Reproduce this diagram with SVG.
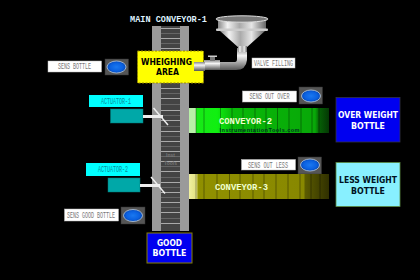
<svg xmlns="http://www.w3.org/2000/svg" width="420" height="280" viewBox="0 0 420 280">
  <style>
    .tag { fill: #fff; stroke: #bbb; stroke-width: .5; }
    .tagtext { font: 9px "Liberation Mono", monospace; fill: #777; text-anchor: middle; }
    .acttext { font: 9px "Liberation Mono", monospace; fill: #0a8a9a; text-anchor: middle; }
    .bold { font: bold 8px "DejaVu Sans", Verdana, sans-serif; text-anchor: middle; }
    .belt { font: bold 9.5px "Liberation Mono", monospace; fill: #f0ffd0; }
    .slat { stroke: #aaa; stroke-width: 1; }
    .sep { stroke: #000; stroke-opacity: .45; stroke-width: .8; }
    .case { fill: #555; stroke: #333; stroke-width: .5; }
    .lens { fill: url(#lens); stroke: #cde; stroke-width: .7; }
    .teal { fill: #00a8a8; stroke: #007a7a; stroke-width: .5; }
    .arm { stroke: #eee; fill: none; }
    .mark { font: bold 5px "Liberation Sans", sans-serif; fill: #777; text-anchor: middle; }
  </style>
  <defs>
    <linearGradient id="steel" x1="0" x2="1" y1="0" y2="0">
      <stop offset="0" stop-color="#888"/><stop offset=".2" stop-color="#f2f2f2"/>
      <stop offset=".45" stop-color="#aaa"/><stop offset=".7" stop-color="#e6e6e6"/>
      <stop offset="1" stop-color="#666"/>
    </linearGradient>
    <linearGradient id="pipe" x1="0" x2="0" y1="0" y2="1">
      <stop offset="0" stop-color="#888"/><stop offset=".35" stop-color="#f4f4f4"/>
      <stop offset="1" stop-color="#555"/>
    </linearGradient>
    <radialGradient id="lens">
      <stop offset="0" stop-color="#1a78f0"/><stop offset=".7" stop-color="#0a60e0"/><stop offset="1" stop-color="#0848b0"/>
    </radialGradient>
    <linearGradient id="green" x1="0" x2="1" y1="0" y2="0">
      <stop offset="0" stop-color="#b8f0a8"/><stop offset=".05" stop-color="#b8f0a8"/>
      <stop offset=".051" stop-color="#18e818"/><stop offset=".2" stop-color="#10f010"/>
      <stop offset=".31" stop-color="#08b808"/><stop offset=".9" stop-color="#08a808"/>
      <stop offset=".93" stop-color="#066006"/><stop offset="1" stop-color="#043804"/>
    </linearGradient>
    <linearGradient id="olive" x1="0" x2="1" y1="0" y2="0">
      <stop offset="0" stop-color="#f0f0a0"/><stop offset=".055" stop-color="#e0e080"/>
      <stop offset=".065" stop-color="#909000"/><stop offset=".82" stop-color="#888800"/>
      <stop offset=".83" stop-color="#5c5c00"/><stop offset="1" stop-color="#303000"/>
    </linearGradient>
  </defs>

  <rect width="420" height="280" fill="#000"/>

  <g id="main-conveyor">
    <rect x="152" y="26" width="37" height="205" fill="#9a9a9a"/>
    <rect x="161" y="26" width="19" height="205" fill="#444"/>
    <path class="slat" d="M161 28.500h19M161 38.500h19M161 48.500h19M161 88.500h19M161 98.500h19M161 110.500h19M161 120.500h19M161 131.500h19M161 141.500h19M161 151.500h19M161 161.500h19M161 171.500h19M161 182.500h19M161 192.500h19M161 202.500h19M161 212.500h19M161 223.500h19"/>
    <path stroke="#666" stroke-width="1" d="M161 33.500h19M161 43.500h19M161 93.500h19M161 104.500h19M161 115.500h19M161 126.500h19M161 136.500h19M161 146.500h19M161 156.500h19M161 166.500h19M161 177.500h19M161 187.500h19M161 197.500h19M161 207.500h19M161 218.500h19"/>
    <text class="mark" x="170.500" y="157">Inst</text>
    <text class="mark" x="170.500" y="165">Tools</text>
    <text x="130" y="22" font-family="Liberation Mono, monospace" font-size="9" font-weight="bold" fill="#dff2ff" textLength="77" lengthAdjust="spacingAndGlyphs">MAIN CONVEYOR-1</text>
  </g>

  <g id="hopper">
    <path d="M204 62h31q2 0 2-3v-11h10v12q-1 10-11 10h-32z" fill="url(#pipe)"/>
    <rect x="204" y="60" width="16" height="10" fill="url(#pipe)"/>
    <rect x="210" y="57" width="5" height="4" fill="#777"/>
    <rect x="208" y="55.500" width="9" height="1.500" fill="#ccc"/>
    <path d="M220 31 239 48h7l19-17z" fill="url(#steel)"/>
    <path d="M218 19h48v11q-24 3-48 0z" fill="url(#steel)"/>
    <rect x="216" y="28.500" width="52" height="2.500" rx="1" fill="#ccc"/>
    <ellipse cx="242" cy="19" rx="26" ry="3.200" fill="#777" stroke="#ddd"/>
    <rect x="238" y="46" width="9" height="6" fill="url(#steel)"/>
  </g>

  <g id="weighing-area">
    <rect x="137.500" y="51" width="66" height="32" fill="#ff0" stroke="#998800" stroke-width="1" stroke-dasharray="2 1.500"/>
    <text class="bold" x="166.500" y="64.500" fill="#000" textLength="51" lengthAdjust="spacingAndGlyphs">WHEIGHING</text>
    <text class="bold" x="167.500" y="75" fill="#000" textLength="23" lengthAdjust="spacingAndGlyphs">AREA</text>
    <rect x="194" y="62" width="11" height="9" fill="url(#pipe)"/>
  </g>

  <g id="valve-filling">
    <rect class="tag" x="252" y="58" width="43" height="10"/>
    <text class="tagtext" x="273.500" y="66" textLength="39" lengthAdjust="spacingAndGlyphs">VALVE FILLING</text>
  </g>

  <g id="sens-bottle">
    <rect class="tag" x="48" y="61" width="53.500" height="11"/>
    <text class="tagtext" x="74.500" y="69" textLength="33" lengthAdjust="spacingAndGlyphs">SENS BOTTLE</text>
    <rect class="case" x="105" y="59" width="23.500" height="16"/>
    <ellipse class="lens" cx="116.500" cy="67" rx="9.500" ry="6"/>
  </g>

  <g id="sens-out-over">
    <rect class="tag" x="242.500" y="91" width="54" height="11"/>
    <text class="tagtext" x="269.500" y="99" textLength="40" lengthAdjust="spacingAndGlyphs">SENS OUT OVER</text>
    <rect class="case" x="299" y="87" width="23.500" height="17"/>
    <ellipse class="lens" cx="311" cy="96" rx="9.500" ry="6"/>
  </g>

  <g id="sens-out-less">
    <rect class="tag" x="241.500" y="159.500" width="54" height="10.500"/>
    <text class="tagtext" x="268" y="167.500" textLength="40" lengthAdjust="spacingAndGlyphs">SENS OUT LESS</text>
    <rect class="case" x="298" y="157" width="23.500" height="17"/>
    <ellipse class="lens" cx="310" cy="165" rx="9.500" ry="6"/>
  </g>

  <g id="sens-good-bottle">
    <rect class="tag" x="64.500" y="209" width="54" height="12"/>
    <text class="tagtext" x="91" y="217.500" textLength="48" lengthAdjust="spacingAndGlyphs">SENS GOOD BOTTLE</text>
    <rect class="case" x="121" y="207" width="24" height="17"/>
    <ellipse class="lens" cx="133" cy="215.500" rx="9.500" ry="6"/>
  </g>

  <g id="conveyor-2">
    <rect x="189" y="108" width="140" height="25" fill="url(#green)"/>
    <path class="sep" d="M196 108v25M204 108v25M220.500 108v25M232 108v25M243 108v25M255 108v25M266 108v25M277.500 108v25M289 108v25M301 108v25M312 108v25M319 108v25"/>
    <text class="belt" x="219" y="124" textLength="53" lengthAdjust="spacingAndGlyphs">CONVEYOR-2</text>
    <text x="219.500" y="132" font-family="Liberation Sans, sans-serif" font-size="5.500" font-weight="bold" fill="#032" textLength="80" lengthAdjust="spacing">InstrumentationTools.com</text>
  </g>

  <g id="conveyor-3">
    <rect x="189" y="174" width="140" height="25" fill="url(#olive)"/>
    <path class="sep" d="M196 174v25M204 174v25M217 174v25M229.500 174v25M240 174v25M253 174v25M264 174v25M276 174v25M288 174v25M300 174v25M311 174v25M320 174v25"/>
    <text class="belt" x="215" y="190" textLength="53" lengthAdjust="spacingAndGlyphs">CONVEYOR-3</text>
  </g>

  <g id="actuator-1">
    <rect x="89" y="95" width="54" height="12" fill="#0ff"/>
    <text class="acttext" x="116" y="103.500" textLength="30" lengthAdjust="spacingAndGlyphs">ACTUATOR-1</text>
    <rect class="teal" x="110.500" y="109" width="32.500" height="14"/>
    <path class="arm" stroke-width="3" d="M143 116.500h20"/>
    <path class="arm" stroke-width="1.500" d="M153.500 108 168 125"/>
  </g>

  <g id="actuator-2">
    <rect x="86" y="163" width="54" height="13" fill="#0ff"/>
    <text class="acttext" x="113" y="172" textLength="30" lengthAdjust="spacingAndGlyphs">ACTUATOR-2</text>
    <rect class="teal" x="108" y="178" width="32" height="14"/>
    <path class="arm" stroke-width="3" d="M140 185.500h20"/>
    <path class="arm" stroke-width="1.500" d="M151 177 165 193.500"/>
  </g>

  <g id="over-weight-bottle">
    <rect x="336" y="97.500" width="64" height="44.500" fill="#0000f0" stroke="#334" stroke-width=".8"/>
    <text class="bold" x="368" y="118" fill="#fff" textLength="60" lengthAdjust="spacingAndGlyphs">OVER WEIGHT</text>
    <text class="bold" x="368" y="129" fill="#fff" textLength="34" lengthAdjust="spacingAndGlyphs">BOTTLE</text>
  </g>

  <g id="less-weight-bottle">
    <rect x="336" y="162.500" width="64" height="44" fill="#88f0ff" stroke="#5a8a40" stroke-width=".8"/>
    <text class="bold" x="368" y="183" fill="#012" textLength="58" lengthAdjust="spacingAndGlyphs">LESS WEIGHT</text>
    <text class="bold" x="368" y="194" fill="#012" textLength="34" lengthAdjust="spacingAndGlyphs">BOTTLE</text>
  </g>

  <g id="good-bottle">
    <rect x="147" y="233" width="45" height="30" fill="#0000f0" stroke="#888000" stroke-width="1"/>
    <text class="bold" x="169.500" y="245.500" fill="#fff" textLength="25" lengthAdjust="spacingAndGlyphs">GOOD</text>
    <text class="bold" x="169.500" y="256" fill="#fff" textLength="34" lengthAdjust="spacingAndGlyphs">BOTTLE</text>
  </g>
</svg>
